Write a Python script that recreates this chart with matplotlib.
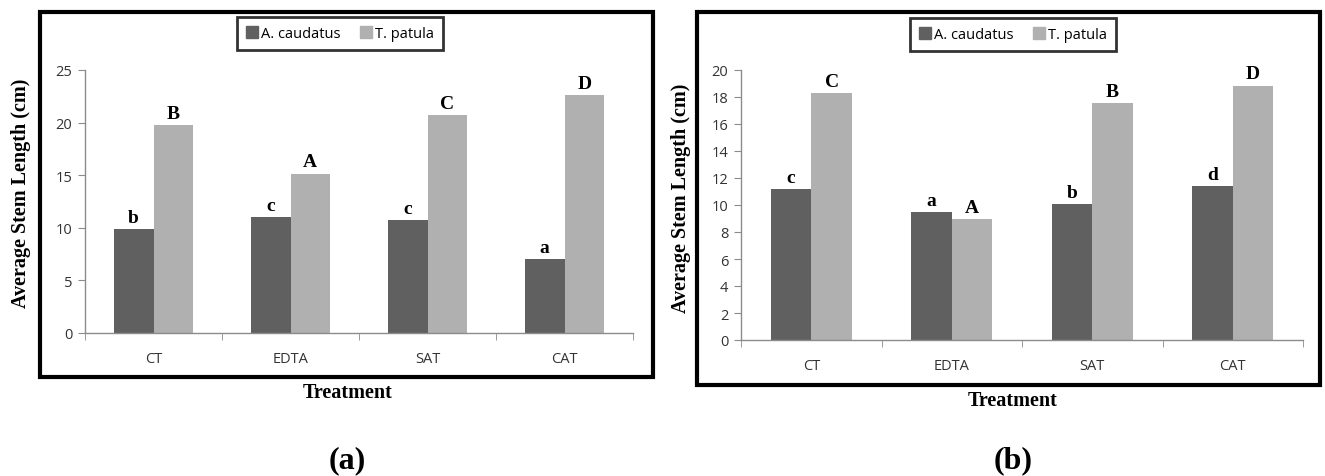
import matplotlib
matplotlib.use("Agg")
from matplotlib import pyplot as plt
from matplotlib.patches import Rectangle, Patch
import numpy as np

treatments = ["CT", "EDTA", "SAT", "CAT"]
species = ["A. caudatus", "T. patula"]

# panel (a)
a_caud = [9.9, 11.05, 10.7, 7.05]
a_pat = [19.75, 15.15, 20.7, 22.6]
a_caud_lbl = ["b", "c", "c", "a"]
a_pat_lbl = ["B", "A", "C", "D"]

# panel (b)
b_caud = [11.2, 9.5, 10.05, 11.4]
b_pat = [18.3, 8.95, 17.55, 18.85]
b_caud_lbl = ["c", "a", "b", "d"]
b_pat_lbl = ["C", "A", "B", "D"]

W, H = 1325, 477
dark = "#606060"
light = "#b0b0b0"
axis_gray = "#8c8c8c"
serif = "Liberation Serif"
sans = "Open Sans"

fig = plt.figure(figsize=(W / 100, H / 100), dpi=100)


def px_axes(x0, x1, y0, y1):
    return fig.add_axes([x0 / W, 1 - y1 / H, (x1 - x0) / W, (y1 - y0) / H])


def box(x0, x1, y0, y1):
    fig.patches.append(Rectangle((x0 / W, 1 - y1 / H), (x1 - x0) / W, (y1 - y0) / H,
                                 transform=fig.transFigure, fill=False,
                                 ec="black", lw=3, zorder=0))


def panel(ax, caud, pat, lc, lp, ymax, ystep):
    x = np.arange(len(treatments))
    w = 0.29
    ax.bar(x - w / 2, caud, w, color=dark)
    ax.bar(x + w / 2, pat, w, color=light)
    for i in range(len(x)):
        ax.text(x[i] - w / 2, caud[i] + ymax * 0.012, lc[i], ha="center", va="bottom",
                fontsize=14, fontweight="bold", family=serif)
        ax.text(x[i] + w / 2, pat[i] + ymax * 0.012, lp[i], ha="center", va="bottom",
                fontsize=14, fontweight="bold", family=serif)
    ax.set_xlim(-0.5, len(x) - 0.5)
    ax.set_ylim(0, ymax)
    ax.set_yticks(np.arange(0, ymax + 0.1, ystep))
    ax.set_xticks(x)
    ax.set_xticklabels(treatments)
    ax.set_xticks(np.arange(-0.5, len(x)), minor=True)
    ax.tick_params(axis="x", which="major", length=0, pad=13)
    ax.tick_params(axis="x", which="minor", length=5, color=axis_gray, direction="out")
    ax.tick_params(axis="y", length=5, color=axis_gray, direction="out", pad=4)
    for t in ax.get_xticklabels() + ax.get_yticklabels():
        t.set_family(sans)
        t.set_fontsize(10.5)
        t.set_color("#333333")
    for s in ["top", "right"]:
        ax.spines[s].set_visible(False)
    for s in ["left", "bottom"]:
        ax.spines[s].set_color(axis_gray)
        ax.spines[s].set_linewidth(1)


def legend(cx, cy):
    handles = [Patch(color=dark, label=species[0]), Patch(color=light, label=species[1])]
    lg = fig.legend(handles=handles, loc="center", bbox_to_anchor=(cx / W, 1 - cy / H),
                    ncol=2, frameon=True, fancybox=False, edgecolor="black",
                    handlelength=0.8, handleheight=0.9, handletextpad=0.2,
                    columnspacing=1.4, borderpad=0.6, prop={"family": sans, "size": 10.5})
    lg.get_frame().set_linewidth(2)


# panel (a)
box(40, 653, 13, 378)
ax1 = px_axes(85, 633, 71, 334)
panel(ax1, a_caud, a_pat, a_caud_lbl, a_pat_lbl, 25, 5)
legend(340, 34.5)
fig.text(21 / W, 1 - 193 / H, "Average Stem Length (cm)", rotation=90, ha="center",
         va="center", fontsize=14.5, fontweight="bold", family=serif)
fig.text(348 / W, 1 - 393 / H, "Treatment", ha="center", va="center",
         fontsize=14.5, fontweight="bold", family=serif)
fig.text(347 / W, 1 - 461 / H, "(a)", ha="center", va="center",
         fontsize=23, fontweight="bold", family=serif)

# panel (b)
box(697, 1320, 13, 386)
ax2 = px_axes(741, 1303, 71, 341)
panel(ax2, b_caud, b_pat, b_caud_lbl, b_pat_lbl, 20, 2)
legend(1013, 35.5)
fig.text(681 / W, 1 - 198 / H, "Average Stem Length (cm)", rotation=90, ha="center",
         va="center", fontsize=14.5, fontweight="bold", family=serif)
fig.text(1013 / W, 1 - 401 / H, "Treatment", ha="center", va="center",
         fontsize=14.5, fontweight="bold", family=serif)
fig.text(1013 / W, 1 - 461 / H, "(b)", ha="center", va="center",
         fontsize=23, fontweight="bold", family=serif)

fig.savefig("out.png", dpi=100)
